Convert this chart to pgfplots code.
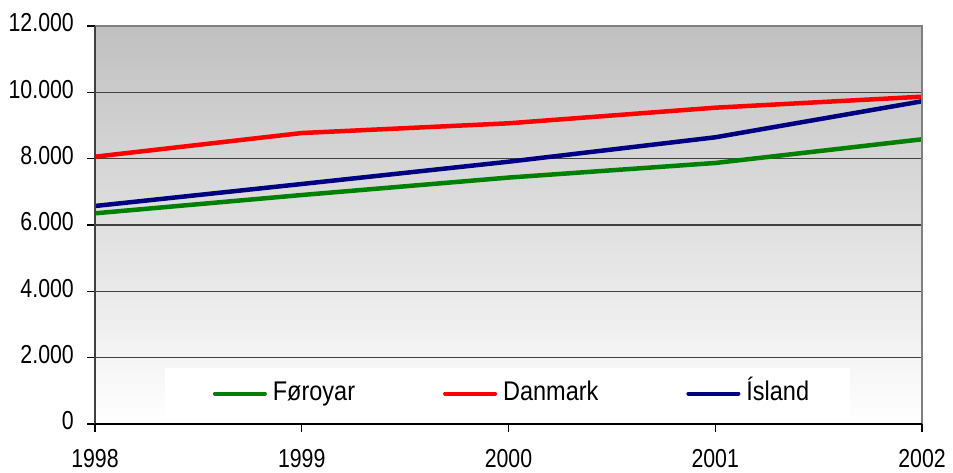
\documentclass[border=0pt]{standalone}
\usepackage{fontspec}
\setmainfont{Liberation Sans}
\newfontfamily\tickfont{Liberation Sans}[FakeStretch=0.82]
\newfontfamily\legfont{Liberation Sans}[FakeStretch=0.87]
\usepackage{pgfplots}
\pgfplotsset{compat=1.18}
\definecolor{fgreen}{RGB}{0,128,0}
\definecolor{dnavy}{RGB}{0,0,128}
\definecolor{bgtop}{RGB}{192,192,192}
\definecolor{gridc}{RGB}{64,64,64}
\definecolor{bord}{RGB}{128,128,128}
\begin{document}
\begin{tikzpicture}[x=1pt,y=1pt]
\path[use as bounding box] (0,0) rectangle (953,472);
\begin{axis}[
  at={(95pt,48pt)}, anchor=south west,
  width=827pt, height=398pt, scale only axis,
  xmin=1998, xmax=2002, ymin=0, ymax=12000,
  xtick={1998,1999,2000,2001,2002},
  ytick={0,2000,4000,6000,8000,10000,12000},
  scaled y ticks=false, scaled x ticks=false,
  xtick pos=left, ytick pos=left,
  tick align=outside, major tick length=8pt,
  tick style={black, line width=1.2pt},
  axis line style={draw=none},
  ymajorgrids, major grid style={gridc, line width=1.3pt},
  axis background/.style={shade, top color=bgtop, bottom color=white},
  clip=false,
  /pgf/number format/assume math mode=true,
  /pgf/number format/1000 sep={.},
  xticklabel style={font=\tickfont\fontsize{26}{30}\selectfont, anchor=north, inner sep=0pt, yshift=-17pt, /pgf/number format/1000 sep={}},
  yticklabel style={font=\tickfont\fontsize{26}{30}\selectfont, anchor=east, inner sep=0pt, xshift=-13pt, yshift=3pt},
  legend image code/.code={\draw[#1, line width=4pt, line cap=round] (0pt,0pt) -- (50pt,0pt);},
  legend style={at={(0.503,0.0766)}, anchor=center, draw=none, fill=none,
    font=\legfont\fontsize{27}{30}\selectfont, nodes={inner sep=0pt, text height=19pt, text depth=5pt},
    /tikz/every odd column/.append style={column sep=6pt},
    /tikz/every even column/.append style={column sep=88pt}},
  legend columns=3,
]
\fill[white] (rel axis cs:0.0846,0.0151) rectangle (rel axis cs:0.9129,0.1407);
\addplot[fgreen, line width=4.5pt] coordinates {(1998,6352) (1999,6904) (2000,7430) (2001,7870) (2002,8584)};
\addlegendentry{Føroyar}
\addplot[red, line width=4.5pt] coordinates {(1998,8059) (1999,8773) (2000,9066) (2001,9537) (2002,9868)};
\addlegendentry{Danmark}
\addplot[dnavy, line width=4.5pt] coordinates {(1998,6573) (1999,7236) (2000,7908) (2001,8644) (2002,9730)};
\addlegendentry{Ísland}
\draw[bord, line width=2pt] (rel axis cs:0,1) -- (rel axis cs:1,1) -- (rel axis cs:1,0);
\draw[gridc, line width=2pt] (rel axis cs:0,0) -- (rel axis cs:0,1);
\draw[black, line width=2pt] (rel axis cs:0,0) -- (rel axis cs:1,0);
\end{axis}
\end{tikzpicture}
\end{document}
